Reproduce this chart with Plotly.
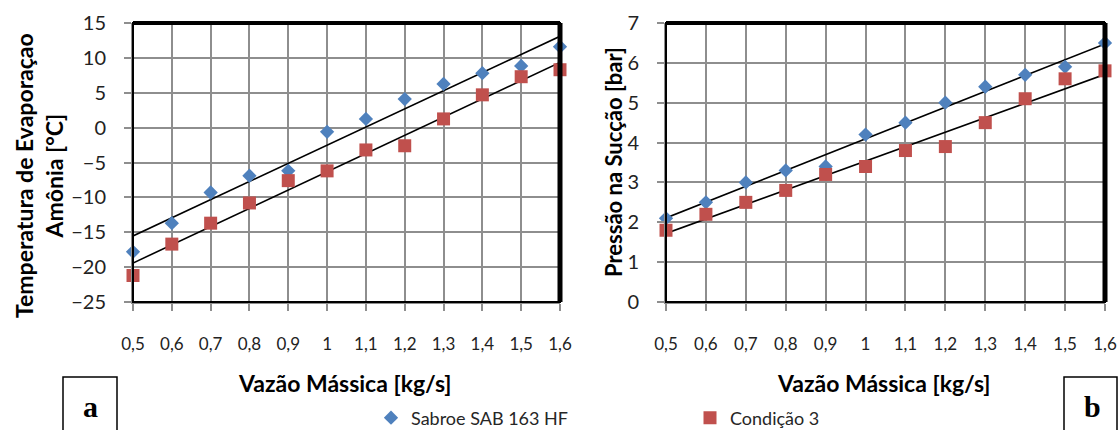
import numpy as np
import plotly.graph_objects as go
from plotly.subplots import make_subplots

# Mass flow rate [kg/s]
vazao = [0.5, 0.6, 0.7, 0.8, 0.9, 1.0, 1.1, 1.2, 1.3, 1.4, 1.5, 1.6]
vazao_labels = ["0,5", "0,6", "0,7", "0,8", "0,9", "1", "1,1", "1,2", "1,3", "1,4", "1,5", "1,6"]

# (a) ammonia evaporation temperature [°C]
temp_sabroe = [-17.8, -13.7, -9.3, -6.9, -6.2, -0.6, 1.25, 4.1, 6.26, 7.8, 8.84, 11.6]
temp_cond3 = [-21.2, -16.7, -13.7, -10.8, -7.6, -6.2, -3.2, -2.6, 1.25, 4.7, 7.3, 8.3]

# (b) suction pressure [bar]
pres_sabroe = [2.1, 2.5, 3.0, 3.3, 3.4, 4.2, 4.5, 5.0, 5.4, 5.7, 5.9, 6.5]
pres_cond3 = [1.8, 2.2, 2.5, 2.8, 3.2, 3.4, 3.8, 3.9, 4.5, 5.1, 5.6, 5.8]

BLUE = "#4F81BD"
RED = "#C0504D"
FONT = "Lato"
GRID = "#8E8E8E"

W, H = 1119, 430
L1, R1 = 133 / W, 560 / W
L2, R2 = 666 / W, 1105 / W
TOP, BOT = 1 - 23 / H, 1 - 302 / H

fig = make_subplots(rows=1, cols=2)


def trend(x, y):
    k, b = np.polyfit(x, y, 1)
    xs = np.array([x[0], x[-1]])
    return xs, k * xs + b


for col, (ys, yc) in enumerate([(temp_sabroe, temp_cond3), (pres_sabroe, pres_cond3)], start=1):
    for y in (ys, yc):
        tx, ty = trend(vazao, y)
        fig.add_trace(go.Scatter(x=tx, y=ty, mode="lines", line=dict(color="black", width=1.6),
                                 showlegend=False, hoverinfo="skip", cliponaxis=False), row=1, col=col)
    fig.add_trace(go.Scatter(x=vazao, y=ys, mode="markers", name="Sabroe SAB 163 HF",
                             marker=dict(symbol="diamond", size=11, color=BLUE),
                             showlegend=(col == 1), cliponaxis=False), row=1, col=col)
    fig.add_trace(go.Scatter(x=vazao, y=yc, mode="markers", name="Condição 3",
                             marker=dict(symbol="square", size=13, color=RED),
                             showlegend=(col == 1), cliponaxis=False), row=1, col=col)

xaxis_common = dict(range=[0.5, 1.6], tickvals=vazao, ticktext=vazao_labels,
                    showgrid=True, gridcolor=GRID, gridwidth=2, zeroline=False,
                    ticks="outside", ticklen=7, tickcolor=GRID, tickwidth=2,
                    tickfont=dict(family=FONT, size=17, color="#222"),
                    ticklabelstandoff=19, showline=True, linecolor=GRID, linewidth=2)
yaxis_common = dict(showgrid=True, gridcolor=GRID, gridwidth=2, zeroline=False,
                    ticks="outside", ticklen=7, tickcolor=GRID, tickwidth=2,
                    tickfont=dict(family=FONT, size=20, color="#222"),
                    ticklabelstandoff=14, showline=True, linecolor=GRID, linewidth=2)

fig.update_xaxes(**xaxis_common)
fig.update_yaxes(**yaxis_common)
fig.update_layout(
    xaxis=dict(domain=[L1, R1]),
    xaxis2=dict(domain=[L2, R2]),
    yaxis=dict(domain=[BOT, TOP], range=[-25, 15], tickvals=list(range(-25, 16, 5))),
    yaxis2=dict(domain=[BOT, TOP], range=[0, 7], tickvals=list(range(0, 8))),
)

shapes = []
for xr, yr in (("x", "y"), ("x2", "y2")):
    xd, yd = xr + " domain", yr + " domain"
    shapes.append(dict(type="rect", xref=xd, yref=yd, x0=0, x1=1, y0=0, y1=1,
                       line=dict(color="black", width=2), layer="above"))
    shapes.append(dict(type="line", xref=xd, yref=yd, x0=0, x1=1, y0=1, y1=1,
                       line=dict(color="black", width=4), layer="above"))
    shapes.append(dict(type="line", xref=xd, yref=yd, x0=1, x1=1, y0=0, y1=1,
                       line=dict(color="black", width=5), layer="above"))

# panel tags "a" and "b"
for x0, x1 in ((63, 117), (1064, 1117)):
    shapes.append(dict(type="rect", xref="paper", yref="paper",
                       x0=x0 / W, x1=x1 / W, y0=-0.05, y1=1 - 377 / H,
                       line=dict(color="black", width=1.5)))


def note(text, x, y, size, family=FONT, angle=0):
    return dict(text=text, x=x / W, y=1 - y / H, xref="paper", yref="paper",
                xanchor="center", yanchor="middle", showarrow=False, textangle=angle,
                font=dict(family=family, size=size, color="black"))


annotations = [
    note("<b>Vazão Mássica [kg/s]</b>", 345, 383, 23),
    note("<b>Vazão Mássica [kg/s]</b>", 884, 383, 23),
    note("<b>Temperatura de Evaporaçao<br>Amônia [°C]</b>", 39, 176, 23, angle=-90),
    note("<b>Pressão na Sucção [bar]</b>", 613, 162, 22, angle=-90),
    note("<b>a</b>", 90, 406, 30, family="Liberation Serif"),
    note("<b>b</b>", 1092, 406, 30, family="Liberation Serif"),
]

fig.update_layout(
    width=W, height=H,
    margin=dict(l=0, r=0, t=0, b=0, autoexpand=False),
    paper_bgcolor="white", plot_bgcolor="white",
    shapes=shapes, annotations=annotations,
    showlegend=True,
    legend=dict(orientation="h", x=371 / W, y=1 - 418 / H, xanchor="left", yanchor="middle",
                entrywidth=274, entrywidthmode="pixels", itemwidth=30,
                font=dict(family=FONT, size=18, color="#262626"), bgcolor="rgba(0,0,0,0)"),
)

fig.write_html("out.html")
